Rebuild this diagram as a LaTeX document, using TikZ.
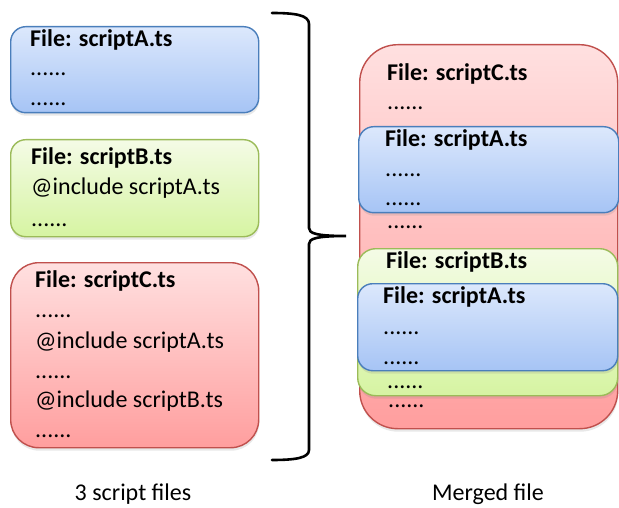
\documentclass[tikz,border=0pt]{standalone}
\usepackage{fontspec}
\setmainfont{Carlito}
\usetikzlibrary{shadows}
\definecolor{bluetop}{HTML}{DCE8FC}
\definecolor{bluebot}{HTML}{A6C4F5}
\definecolor{blueline}{HTML}{4A7EBB}
\definecolor{greentop}{HTML}{F4FBE6}
\definecolor{greenbot}{HTML}{D6F4A2}
\definecolor{greenline}{HTML}{9BBB59}
\definecolor{redtop}{HTML}{FFE0E0}
\definecolor{redbot}{HTML}{FF9E9E}
\definecolor{redline}{HTML}{C0504D}
\begin{document}
\begin{tikzpicture}[x=1pt,y=-1pt,
  filebox/.style={inner sep=0pt, anchor=north west, line width=1.4pt,
    drop shadow={shadow xshift=0.5pt, shadow yshift=-3pt, opacity=0.18}},
  bluebox/.style={filebox, draw=blueline, top color=bluetop, bottom color=bluebot},
  greenbox/.style={filebox, draw=greenline, top color=greentop, bottom color=greenbot},
  redbox/.style={filebox, draw=redline, top color=redtop, bottom color=redbot},
  txt/.style={anchor=base west, inner sep=0pt, font=\fontsize{24}{29}\selectfont},
  ttl/.style={txt, font=\fontsize{24}{29}\selectfont\bfseries},
  lbl/.style={anchor=base, inner sep=0pt, font=\fontsize{24}{29}\selectfont}]
\useasboundingbox (0,0) rectangle (619,508);

% left boxes
\node[bluebox, rounded corners=15pt, minimum width=248pt, minimum height=86pt] (boxA) at (10,26) {};
\node[greenbox, rounded corners=15pt, minimum width=248pt, minimum height=97pt] (boxB) at (10,139) {};
\node[redbox, rounded corners=28pt, minimum width=248pt, minimum height=185pt] (boxC) at (10,262) {};

% right stack
\node[redbox, rounded corners=38pt, minimum width=258pt, minimum height=384pt] (mC) at (359,44) {};
\node[bluebox, rounded corners=15pt, minimum width=260pt, minimum height=86pt] (mA1) at (358,126) {};
\node[greenbox, rounded corners=18pt, minimum width=260pt, minimum height=147pt] (mB) at (357,248) {};
\node[bluebox, rounded corners=15pt, minimum width=260pt, minimum height=87pt] (mA2) at (357,283) {};

% left texts
\node[ttl] (a1) at (30,47) {File: scriptA.ts};
\node[txt] (a2) at (30,76) {......};
\node[txt] (a3) at (30,106) {......};

\node[ttl] (b1) at (31,165) {File: scriptB.ts};
\node[txt] (b2) at (31,195) {@include scriptA.ts};
\node[txt] (b3) at (31,226) {......};

\node[ttl] (c1) at (35,287) {File: scriptC.ts};
\node[txt] (c2) at (35,317) {......};
\node[txt] (c3) at (35,348) {@include scriptA.ts};
\node[txt] (c4) at (35,378) {......};
\node[txt] (c5) at (35,407) {@include scriptB.ts};
\node[txt] (c6) at (35,437) {......};

% right texts
\node[ttl] (r1) at (387,81) {File: scriptC.ts};
\node[txt] (r2) at (387,110) {......};
\node[ttl] (r3) at (385,147) {File: scriptA.ts};
\node[txt] (r4) at (385,177) {......};
\node[txt] (r5) at (385,206) {......};
\node[txt] (r6) at (387,229) {......};
\node[ttl] (r7) at (386,268) {File: scriptB.ts};
\node[ttl] (r8) at (383,303) {File: scriptA.ts};
\node[txt] (r9) at (383,334) {......};
\node[txt] (r10) at (383,364) {......};
\node[txt] (r11) at (387,388) {......};
\node[txt] (r12) at (388,407) {......};

% brace
\coordinate (tip) at (346,236);
\draw[line width=2.6pt, line cap=round]
  (272,13) .. controls (295,13) and (309,15) .. (309,24) -- (309,228)
  .. controls (309,233) and (315,236) .. (tip)
  .. controls (315,236) and (309,239) .. (309,244) -- (309,450)
  .. controls (309,458) and (295,460) .. (272,460);

% labels
\node[lbl] (l1) at (133,500) {3 script files};
\node[lbl] (l2) at (488,500) {Merged file};
\end{tikzpicture}
\end{document}
